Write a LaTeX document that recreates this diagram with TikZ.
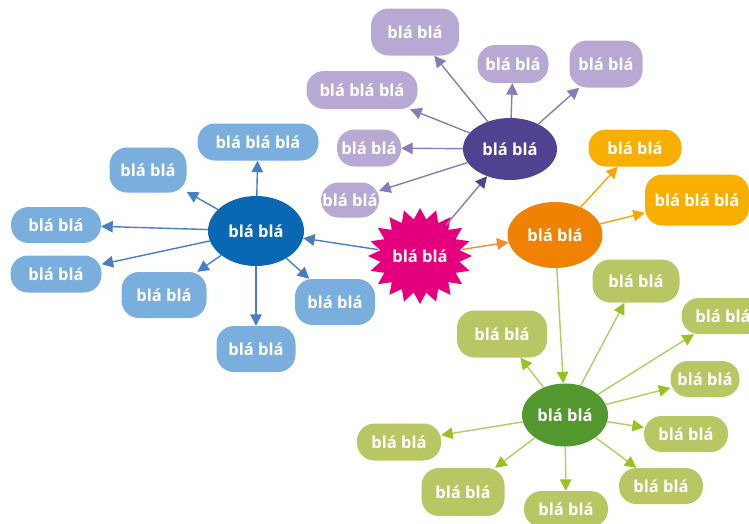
\documentclass[tikz,border=0pt]{standalone}
\usepackage{fontspec}
\setmainfont{Open Sans}
\usetikzlibrary{arrows.meta,shapes.geometric}
\definecolor{bluedark}{HTML}{0A68B2}
\definecolor{bluelt}{HTML}{7AAEDD}
\definecolor{bluearr}{HTML}{4A7EC2}
\definecolor{purpdark}{HTML}{514291}
\definecolor{purplt}{HTML}{B7A9D4}
\definecolor{purparr}{HTML}{8B7AB9}
\definecolor{burstc}{HTML}{E4007D}
\definecolor{orgdark}{HTML}{EF8200}
\definecolor{orglt}{HTML}{F9AF00}
\definecolor{orgarr}{HTML}{F6A800}
\definecolor{orgarr2}{HTML}{F08A33}
\definecolor{grndark}{HTML}{53972F}
\definecolor{grnlt}{HTML}{B8C764}
\definecolor{grnline}{HTML}{AECD62}
\definecolor{grnhead}{HTML}{97C220}
\begin{document}
\begin{tikzpicture}[x=1pt,y=-1pt,
  every node/.style={font=\bfseries\fontsize{16.5}{18}\selectfont, text=white, inner sep=0pt},
  pill/.style={rectangle, rounded corners=17.5pt},
  ell/.style={ellipse},
  arr/.style={line width=1.4pt, draw=#1, -{Triangle[length=11.5pt,width=11.5pt,fill=#1]}},
  arrh/.style 2 args={line width=1.4pt, draw=#1, -{Triangle[length=11.5pt,width=11.5pt,fill=#2,color=#2]}}
]
\clip (0,0) rectangle (749,523);
\useasboundingbox (0,0) rectangle (749,523);
% ---------- blue group
\node[ell, fill=bluedark, minimum width=96pt, minimum height=70pt] (B) at (256,231) {blá blá};
\node[pill, fill=bluelt, minimum width=121pt, minimum height=37pt] (B1) at (258,142) {blá blá blá};
\node[pill, fill=bluelt, minimum width=77pt, minimum height=45pt] (B2) at (148,170) {blá blá};
\node[pill, fill=bluelt, minimum width=90pt, minimum height=36pt] (B3) at (56,225) {blá blá};
\node[pill, fill=bluelt, minimum width=91pt, minimum height=37pt] (B4) at (56,274) {blá blá};
\node[pill, fill=bluelt, minimum width=85pt, minimum height=46pt] (B5) at (164,295) {blá blá};
\node[pill, fill=bluelt, minimum width=79pt, minimum height=46pt] (B6) at (256,349) {blá blá};
\node[pill, fill=bluelt, minimum width=80pt, minimum height=46pt] (B7) at (335,302) {blá blá};
% ---------- purple group
\node[ell, fill=purpdark, minimum width=94pt, minimum height=62pt] (P) at (510,149) {blá blá};
\node[pill, fill=purplt, minimum width=88pt, minimum height=47pt] (P1) at (415,32) {blá blá};
\node[pill, fill=purplt, minimum width=111pt, minimum height=38pt] (P2) at (362,90) {blá blá blá};
\node[pill, fill=purplt, minimum width=64pt, minimum height=37pt] (P3) at (369,148) {blá blá};
\node[pill, fill=purplt, minimum width=58pt, minimum height=35pt] (P4) at (350,200) {blá blá};
\node[pill, fill=purplt, minimum width=71pt, minimum height=38pt] (P5) at (513,64) {blá blá};
\node[pill, fill=purplt, minimum width=73pt, minimum height=47pt] (P6) at (606,64) {blá blá};
% ---------- orange group
\node[ell, fill=orgdark, minimum width=95pt, minimum height=66pt] (O) at (555,235) {blá blá};
\node[pill, fill=orglt, minimum width=93pt, minimum height=37pt] (O1) at (635,148) {blá blá};
\node[pill, fill=orglt, minimum width=104pt, minimum height=51pt] (O2) at (697,200) {blá blá blá};
% ---------- green group
\node[ell, fill=grndark, minimum width=86pt, minimum height=63pt] (G) at (565,415) {blá blá};
\node[pill, fill=grnlt, minimum width=87pt, minimum height=43pt] (G1) at (636,281) {blá blá};
\node[pill, fill=grnlt, minimum width=83pt, minimum height=36pt] (G2) at (723,316) {blá blá};
\node[pill, fill=grnlt, minimum width=69pt, minimum height=36pt] (G3) at (705,379) {blá blá};
\node[pill, fill=grnlt, minimum width=84pt, minimum height=36pt] (G4) at (686,434) {blá blá};
\node[pill, fill=grnlt, minimum width=84pt, minimum height=36pt] (G5) at (661,486) {blá blá};
\node[pill, fill=grnlt, minimum width=84pt, minimum height=36pt] (G6) at (566,509) {blá blá};
\node[pill, fill=grnlt, minimum width=83pt, minimum height=48pt] (G7) at (463,492) {blá blá};
\node[pill, fill=grnlt, minimum width=84pt, minimum height=37pt] (G8) at (399,442) {blá blá};
\node[pill, fill=grnlt, minimum width=90pt, minimum height=47pt] (G9) at (502,334) {blá blá};
% ---------- starburst
\node[ellipse, minimum width=84pt, minimum height=78pt] (S) at (420,256) {};
\begin{scope}[shift={(420,256)}]
\fill[burstc] (0,48) \foreach \i [evaluate=\i as \rx using {ifthenelse(mod(\i,2)==0,52,40)}, evaluate=\i as \ry using {ifthenelse(mod(\i,2)==0,48,37)}] in {1,...,39} { -- ({\rx*cos(\i*9+90)},{\ry*sin(\i*9+90)}) } -- cycle;
\end{scope}
\node at (S) {blá blá};
% ---------- arrows
\foreach \t in {B1,B2,B3,B4,B5,B6,B7} \draw[arr=bluearr] (B) -- (\t);
\foreach \t in {P1,P2,P3,P4,P5,P6} \draw[arr=purparr] (P) -- (\t);
\foreach \t in {O1,O2} \draw[arr=orgarr] (O) -- (\t);
\foreach \t in {G1,G2,G3,G4,G5,G6,G7,G8,G9} \draw[arrh={grnline}{grnhead}] (G) -- (\t);
\draw[arrh={grnline}{grnhead}] (O) -- (G);
\draw[arr=bluearr] (S) -- (B);
\draw[arrh={purparr}{purpdark}] (S) -- (P);
\draw[arr=orgarr2] (S) -- (O);
\end{tikzpicture}
\end{document}
